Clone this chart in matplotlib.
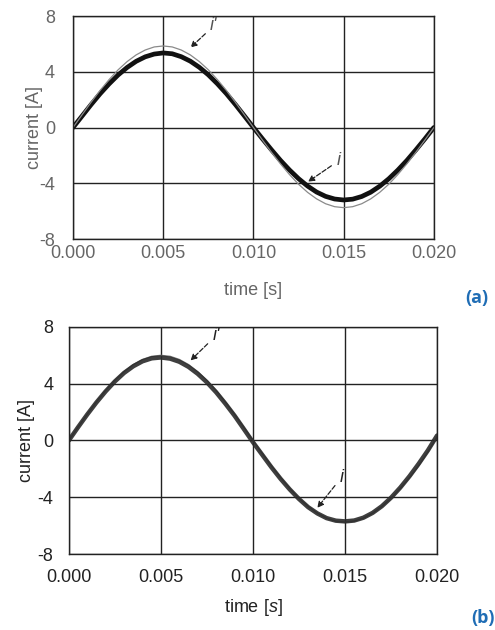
import numpy as np
import matplotlib.pyplot as plt

plt.rcParams['font.family'] = ['Liberation Sans', 'DejaVu Sans']
plt.rcParams['mathtext.fontset'] = 'custom'
plt.rcParams['mathtext.it'] = 'Liberation Sans:italic'
plt.rcParams['mathtext.rm'] = 'Liberation Sans'
plt.rcParams['axes.unicode_minus'] = False

# time samples [s], every 0.5 ms over one period
time_s = [k * 0.0005 for k in range(41)]

# panel (a): reference current i' (thin grey) and measured current i (thick black)
a_ref = [0, 0.91, 1.81, 2.66, 3.44, 4.14, 4.73, 5.21, 5.56, 5.78, 5.85,
         5.78, 5.56, 5.21, 4.73, 4.14, 3.44, 2.66, 1.81, 0.91, 0,
         -0.90, -1.78, -2.61, -3.38, -4.07, -4.65, -5.12, -5.47, -5.68, -5.75,
         -5.68, -5.47, -5.12, -4.65, -4.07, -3.38, -2.61, -1.78, -0.90, 0]
a_meas = [0, 0.82, 1.64, 2.42, 3.13, 3.77, 4.31, 4.75, 5.07, 5.27, 5.35,
          5.29, 5.08, 4.76, 4.32, 3.78, 3.14, 2.43, 1.65, 0.83, 0,
          -0.81, -1.60, -2.36, -3.05, -3.67, -4.20, -4.63, -4.94, -5.13, -5.20,
          -5.14, -4.95, -4.64, -4.21, -3.68, -3.06, -2.37, -1.61, -0.82, 0]

# panel (b)
b_ref = [0, 0.94, 1.85, 2.72, 3.53, 4.24, 4.85, 5.35, 5.71, 5.93, 6.00,
         5.93, 5.71, 5.35, 4.85, 4.24, 3.53, 2.72, 1.85, 0.94, 0.0,
         -0.90, -1.78, -2.61, -3.38, -4.07, -4.65, -5.12, -5.47, -5.68, -5.75,
         -5.68, -5.47, -5.12, -4.65, -4.07, -3.38, -2.61, -1.78, -0.80, 0.25]
b_meas = [0, 0.93, 1.83, 2.68, 3.46, 4.16, 4.76, 5.23, 5.58, 5.79, 5.85,
          5.77, 5.55, 5.19, 4.70, 4.10, 3.40, 2.60, 1.75, 0.82, -0.12,
          -1.00, -1.88, -2.70, -3.45, -4.12, -4.70, -5.14, -5.47, -5.65, -5.70,
          -5.64, -5.44, -5.10, -4.63, -4.03, -3.32, -2.52, -1.64, -0.70, 0.35]

x_ticks = [0.000, 0.005, 0.010, 0.015, 0.020]
y_ticks = [-8, -4, 0, 4, 8]

fig = plt.figure(figsize=(4.95, 6.3), dpi=100)
ax_a = fig.add_axes([0.1475, 0.6206, 0.729, 0.354])
ax_b = fig.add_axes([0.139, 0.1206, 0.744, 0.3604])


def style_axes(ax, txt_color, xlabel, ypad, xpad, xlpad, ylpad):
    ax.set_xlim(0, 0.02)
    ax.set_ylim(-8, 8)
    ax.set_xticks(x_ticks)
    ax.set_yticks(y_ticks)
    ax.set_xticklabels([f'{v:.3f}' for v in x_ticks])
    ax.tick_params(length=0, labelsize=13, colors=txt_color)
    ax.tick_params(axis='y', pad=ypad)
    ax.tick_params(axis='x', pad=xpad)
    ax.grid(True, color='#222222', lw=1.0)
    for s in ax.spines.values():
        s.set_color('#222222')
        s.set_linewidth(1.0)
    ax.set_xlabel(xlabel, fontsize=13, color=txt_color, labelpad=xlpad)
    ax.set_ylabel('current [A]', fontsize=13, color=txt_color, labelpad=ylpad)


arrow = dict(arrowstyle='-|>', ls='--', lw=0.9, color='#222222', mutation_scale=9)

# (a)
ax_a.plot(time_s, a_meas, color='#111111', lw=3.4, solid_capstyle='round')
ax_a.plot(time_s, a_ref, color='#8a8a8a', lw=0.9)
style_axes(ax_a, '#666666', 'time [s]', 13, 4, 15, -3)
ax_a.annotate("i'", xy=(0.0064, 5.6), xytext=(0.0076, 7.3), style='italic',
              arrowprops=arrow, fontsize=13, color='#555555', ha='left', va='center')
ax_a.annotate("i", xy=(0.0129, -4.0), xytext=(0.0146, -2.4), style='italic',
              arrowprops=arrow, fontsize=13, color='#555555', ha='left', va='center')

# (b)
ax_b.plot(time_s, b_ref, color='#7a7a7a', lw=1.0)
ax_b.plot(time_s, b_meas, color='#2a2a2a', lw=3.2, alpha=0.9, solid_capstyle='round')
style_axes(ax_b, '#222222', 'time [$s$]', 11, 11, 8, 2)
ax_b.annotate("i'", xy=(0.0065, 5.5), xytext=(0.0078, 7.4), style='italic',
              arrowprops=arrow, fontsize=13, color='#222222', ha='left', va='center')
ax_b.annotate("i", xy=(0.0134, -4.9), xytext=(0.0147, -2.6), style='italic',
              arrowprops=arrow, fontsize=13, color='#222222', ha='left', va='center')

fig.text(0.94, 0.527, '(a)', fontsize=13, fontweight='bold', color='#1f6db5',
         family=['Open Sans', 'DejaVu Sans'], ha='left', va='center')
fig.text(0.953, 0.019, '(b)', fontsize=13, fontweight='bold', color='#1f6db5',
         family=['Open Sans', 'DejaVu Sans'], ha='left', va='center')

fig.savefig('out.png', dpi=100)
